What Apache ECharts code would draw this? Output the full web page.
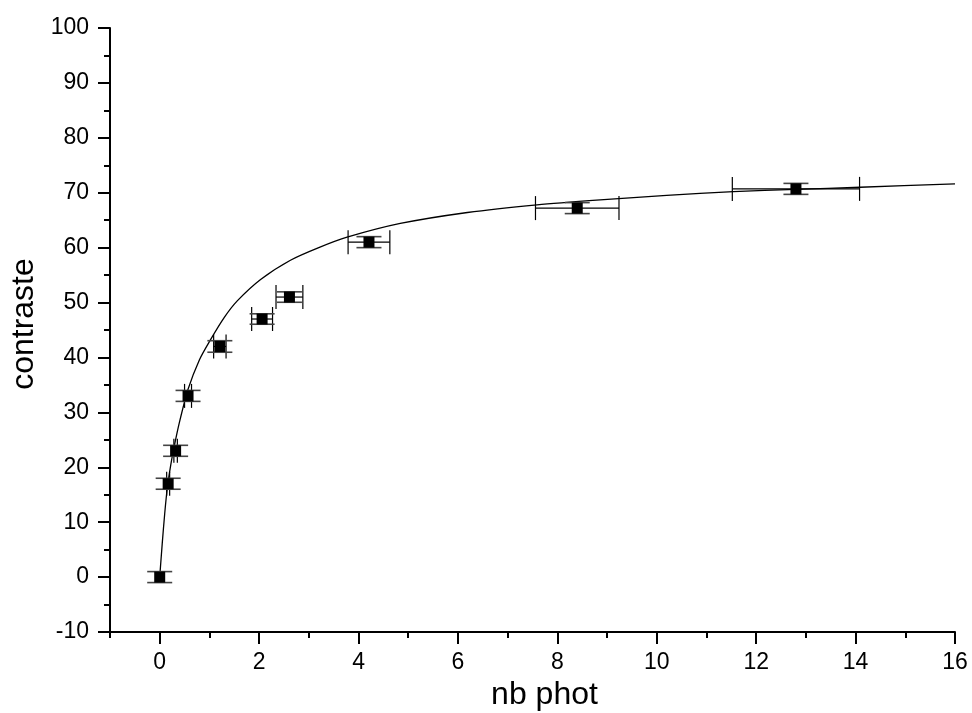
<!DOCTYPE html>
<html>
<head>
<meta charset="utf-8">
<script src="https://cdn.jsdelivr.net/npm/echarts@6/dist/echarts.min.js"></script>
<style>
html,body{margin:0;padding:0;background:#fff;}
#c{width:972px;height:713px;}
</style>
</head>
<body>
<div id="c"></div>
<script>
// Measured data points
var xs    = [0, 0.17, 0.32, 0.57, 1.21, 2.06, 2.61, 4.21, 8.40, 12.80];
var ys    = [0, 17.0, 23.0, 33.0, 42.0, 47.0, 51.0, 61.0, 67.2, 70.7];
var xErr  = [0, 0.03, 0.035, 0.07, 0.125, 0.21, 0.27, 0.42, 0.84, 1.28];
var yErr  = [1.0, 1.0, 1.0, 1.0, 1.05, 0.95, 0.95, 1.0, 1.0, 1.0];

// Fitted curve
var curveX = [0, 0.05, 0.1, 0.155, 0.22, 0.29, 0.4, 0.57, 0.8, 1.02, 1.3, 1.56, 2.03, 2.63, 3.2, 3.77, 4.84, 6.19, 7.59, 8.86, 10.2, 11.54, 12.8, 14.09, 16];
var curveY = [0, 6.0, 11.5, 16.4, 20.3, 23.7, 28.3, 34.2, 39.6, 43.2, 47.3, 50.3, 54.2, 57.7, 60.0, 61.9, 64.4, 66.4, 67.8, 68.7, 69.5, 70.2, 70.6, 71.0, 71.6];

var xMajor = [0, 2, 4, 6, 8, 10, 12, 14, 16];
var xMinor = [-1, 1, 3, 5, 7, 9, 11, 13, 15];

var errData = xs.map(function (x, i) { return [x, ys[i], xErr[i], yErr[i]]; });
var ptData = xs.map(function (x, i) { return [x, ys[i]]; });
var curveData = curveX.map(function (x, i) { return [x, curveY[i]]; });

var FONT = 'Liberation Sans, Arial, sans-serif';
var chart = echarts.init(document.getElementById('c'), null, {renderer: 'canvas'});

chart.setOption({
  backgroundColor: '#fff',
  animation: false,
  grid: {left: 110, right: 17, top: 28, bottom: 81, containLabel: false, outerBoundsMode: 'none'},
  xAxis: [{
    type: 'value', min: -1, max: 16, position: 'bottom',
    name: 'nb phot', nameLocation: 'middle', nameGap: 46,
    nameTextStyle: {fontFamily: FONT, fontSize: 32, color: '#000', padding: [0, 0, 0, 24]},
    axisLine: {show: true, onZero: false, lineStyle: {color: '#000', width: 2}},
    axisTick: {show: true, customValues: xMajor, length: 12, lineStyle: {color: '#000', width: 2}},
    axisLabel: {customValues: xMajor, fontFamily: FONT, fontSize: 23, color: '#000', margin: 19},
    splitLine: {show: false}
  }, {
    type: 'value', min: -1, max: 16, position: 'bottom',
    axisLine: {show: false, onZero: false},
    axisTick: {show: true, customValues: xMinor, length: 6, lineStyle: {color: '#000', width: 2}},
    axisLabel: {show: false},
    splitLine: {show: false}
  }],
  yAxis: {
    type: 'value', min: -10, max: 100, interval: 10,
    name: 'contraste', nameLocation: 'middle', nameGap: 63,
    nameTextStyle: {fontFamily: FONT, fontSize: 32, color: '#000', padding: [0, 0, 0, 12]},
    axisLine: {show: true, onZero: false, lineStyle: {color: '#000', width: 2}},
    axisTick: {show: true, length: 12, lineStyle: {color: '#000', width: 2}},
    minorTick: {show: true, splitNumber: 2, length: 6, lineStyle: {color: '#000', width: 2}},
    axisLabel: {fontFamily: FONT, fontSize: 23, color: '#000', margin: 21},
    splitLine: {show: false},
    minorSplitLine: {show: false}
  },
  series: [{
    type: 'line', data: curveData, xAxisIndex: 0,
    smooth: 0.25, showSymbol: false, symbol: 'none',
    lineStyle: {color: '#000', width: 1.3}, z: 2
  }, {
    type: 'custom', xAxisIndex: 0, data: errData, z: 3,
    renderItem: function (params, api) {
      var x = api.value(0), y = api.value(1), xe = api.value(2), ye = api.value(3);
      var l = api.coord([x - xe, y]), r = api.coord([x + xe, y]);
      var t = api.coord([x, y + ye]), b = api.coord([x, y - ye]);
      var hc = 12.5, vc = 12;
      var sx = {stroke: '#000', lineWidth: 1.2};
      var sy = {stroke: '#444', lineWidth: 1.6};
      var ch = [];
      if (xe > 0) {
        ch.push({type: 'line', shape: {x1: l[0], y1: l[1], x2: r[0], y2: r[1]}, style: sx});
        ch.push({type: 'line', shape: {x1: l[0], y1: l[1] - vc, x2: l[0], y2: l[1] + vc}, style: sx});
        ch.push({type: 'line', shape: {x1: r[0], y1: r[1] - vc, x2: r[0], y2: r[1] + vc}, style: sx});
      }
      ch.push({type: 'line', shape: {x1: t[0], y1: t[1], x2: b[0], y2: b[1]}, style: sy});
      ch.push({type: 'line', shape: {x1: t[0] - hc, y1: t[1], x2: t[0] + hc, y2: t[1]}, style: sy});
      ch.push({type: 'line', shape: {x1: b[0] - hc, y1: b[1], x2: b[0] + hc, y2: b[1]}, style: sy});
      return {type: 'group', children: ch};
    }
  }, {
    type: 'scatter', xAxisIndex: 0, data: ptData,
    symbol: 'rect', symbolSize: 11,
    itemStyle: {color: '#000', opacity: 1}, z: 4
  }]
});
</script>
</body>
</html>
